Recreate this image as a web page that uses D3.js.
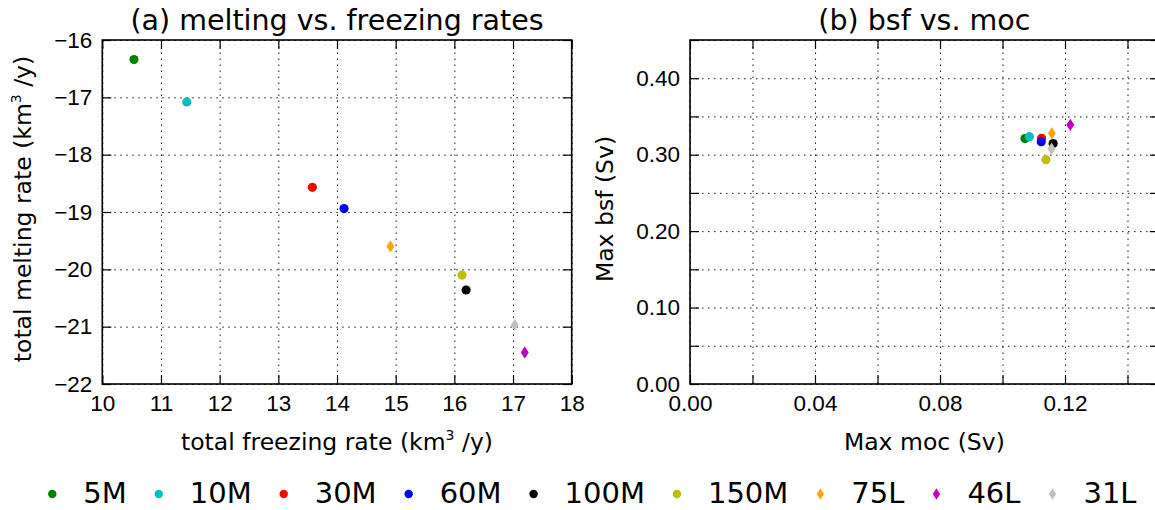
<!DOCTYPE html>
<html>
<head>
<meta charset="utf-8">
<script src="https://cdn.jsdelivr.net/npm/d3@7"></script>
<style>
    body { margin: 0; background: #fff; }
    svg { font-family: "DejaVu Sans", sans-serif; }
    .grid line { stroke: #000; stroke-width: 1; stroke-dasharray: 1.5, 4.5; opacity: 0.9; }
    .grid .domain { display: none; }
    .axis line { stroke: #000; stroke-width: 1.2; }
    .axis .domain { display: none; }
    .axis text { font-size: 22.5px; fill: #000; }
    .frame { fill: none; stroke: #000; stroke-width: 1.6; }
    .title { font-size: 28.5px; text-anchor: middle; }
    .label { font-size: 23.5px; text-anchor: middle; }
    .legend text { font-size: 29px; }
</style>
</head>
<body>
<svg id="chart" width="1155" height="510"></svg>
<script>
// runs, in legend order
const runNames = ["5M", "10M", "30M", "60M", "100M", "150M", "75L", "46L", "31L"];

// panel (a)
const freezingRate = [10.54, 11.44, 13.58, 14.12, 16.20, 16.13, 14.91, 17.20, 17.03];
const meltingRate = [-16.34, -17.08, -18.57, -18.94, -20.36, -20.10, -19.60, -21.45, -20.97];

// panel (b)
const maxMoc = [0.1072, 0.1086, 0.1125, 0.1124, 0.1162, 0.1139, 0.1158, 0.1217, 0.1157];
const maxBsf = [0.3210, 0.3235, 0.3215, 0.3170, 0.3146, 0.2935, 0.3280, 0.3390, 0.3078];

// ticks
const freezingTicks = [10, 11, 12, 13, 14, 15, 16, 17, 18];
const meltingTicks = [-16, -17, -18, -19, -20, -21, -22];
const mocTicks = [0, 0.02, 0.04, 0.06, 0.08, 0.10, 0.12, 0.14];
const mocLabels = ["0.00", "", "0.04", "", "0.08", "", "0.12", ""];
const bsfTicks = [0, 0.05, 0.10, 0.15, 0.20, 0.25, 0.30, 0.35, 0.40, 0.45];
const bsfLabels = ["0.00", "", "0.10", "", "0.20", "", "0.30", "", "0.40", ""];

// marker styling (matplotlib classic colours)
const runColors = ["#008000", "#00bfbf", "#ff0000", "#0000ff", "#000000", "#bfbf00", "#ffa500", "#bf00bf", "#c0c0c0"];
const runMarkers = ["o", "o", "o", "o", "o", "o", "d", "d", "d"];

// thin diamond like matplotlib's 'd'
const thinDiamond = {
    draw(ctx, size) {
        let r = Math.sqrt(size);
        ctx.moveTo(0, -r * 0.75);
        ctx.lineTo(r * 0.48, 0);
        ctx.lineTo(0, r * 0.75);
        ctx.lineTo(-r * 0.48, 0);
        ctx.closePath();
    }
};

function markerPath(m, scale = 1) {
    if (m === "d") return d3.symbol().type(thinDiamond).size(68 * scale)();
    return d3.symbol().type(d3.symbolCircle).size(66 * scale)();
}

const svg = d3.select("#chart");
const plotTop = 40, plotBottom = 384, tickLen = 9;

/**
 * Draws one scatter panel: grid, ticks on all sides, frame, points
 */
function drawPanel(p) {
    let x = d3.scaleLinear().domain(p.xDomain).range([p.left, p.right]);
    let y = d3.scaleLinear().domain(p.yDomain).range([plotBottom, plotTop]);
    let g = svg.append("g");

    // dotted grid
    g.append("g").attr("class", "grid")
        .attr("transform", `translate(0,${plotBottom})`)
        .call(d3.axisBottom(x).tickValues(p.xTicks).tickSize(-(plotBottom - plotTop)).tickFormat(""));
    g.append("g").attr("class", "grid")
        .attr("transform", `translate(${p.left},0)`)
        .call(d3.axisLeft(y).tickValues(p.yTicks).tickSize(-(p.right - p.left)).tickFormat(""));

    // ticks pointing inward, labels on bottom and left
    g.append("g").attr("class", "axis")
        .attr("transform", `translate(0,${plotBottom})`)
        .call(d3.axisBottom(x).tickValues(p.xTicks).tickSize(-tickLen).tickPadding(11)
            .tickFormat((d, i) => p.xLabels[i]));
    g.append("g").attr("class", "axis")
        .attr("transform", `translate(0,${plotTop})`)
        .call(d3.axisTop(x).tickValues(p.xTicks).tickSize(-tickLen).tickFormat(""));
    g.append("g").attr("class", "axis")
        .attr("transform", `translate(${p.left},0)`)
        .call(d3.axisLeft(y).tickValues(p.yTicks).tickSize(-tickLen).tickPadding(10)
            .tickFormat((d, i) => p.yLabels[i]));
    g.append("g").attr("class", "axis")
        .attr("transform", `translate(${p.right},0)`)
        .call(d3.axisRight(y).tickValues(p.yTicks).tickSize(-tickLen).tickFormat(""));

    g.append("rect").attr("class", "frame")
        .attr("x", p.left).attr("y", plotTop)
        .attr("width", p.right - p.left).attr("height", plotBottom - plotTop);

    // points
    g.append("g").selectAll("path")
        .data(runNames)
        .join("path")
        .attr("d", (d, i) => markerPath(runMarkers[i]))
        .attr("transform", (d, i) => `translate(${x(p.xs[i])},${y(p.ys[i])})`)
        .attr("fill", (d, i) => runColors[i]);

    let cx = (p.left + p.right) / 2;
    g.append("text").attr("class", "title").attr("x", cx).attr("y", 30).text(p.title);

    let xl = g.append("text").attr("class", "label").attr("x", cx).attr("y", 450);
    addLabel(xl, p.xLabel);
    let yl = g.append("text").attr("class", "label")
        .attr("transform", `translate(${p.yLabelX},${(plotTop + plotBottom) / 2 - 3}) rotate(-90)`);
    addLabel(yl, p.yLabel);
}

// label text with an optional superscript part [before, sup, after]
function addLabel(sel, parts) {
    if (typeof parts === "string") { sel.text(parts); return; }
    sel.append("tspan").text(parts[0]);
    sel.append("tspan").attr("font-size", "14px").attr("dy", -10).text(parts[1]);
    sel.append("tspan").attr("dy", 10).text(parts[2]);
}

drawPanel({
    left: 102.3, right: 571.7,
    xDomain: [10, 18], yDomain: [-22, -16],
    xTicks: freezingTicks, xLabels: freezingTicks.map(d3.format("d")),
    yTicks: meltingTicks, yLabels: meltingTicks.map(d3.format("d")),
    xs: freezingRate, ys: meltingRate,
    title: "(a) melting vs. freezing rates",
    xLabel: ["total freezing rate (km", "3", " /y)"],
    yLabel: ["total melting rate (km", "3", " /y)"],
    yLabelX: 31
});

drawPanel({
    left: 690, right: 1158.75,
    xDomain: [0, 0.15], yDomain: [0, 0.45],
    xTicks: mocTicks, xLabels: mocLabels,
    yTicks: bsfTicks, yLabels: bsfLabels,
    xs: maxMoc, ys: maxBsf,
    title: "(b) bsf vs. moc",
    xLabel: "Max moc (Sv)",
    yLabel: "Max bsf (Sv)",
    yLabelX: 613
});

// legend along the bottom, one row
let legend = svg.append("g").attr("class", "legend");
let lx = 52.3;
runNames.forEach((name, i) => {
    legend.append("path")
        .attr("d", markerPath(runMarkers[i], 0.85))
        .attr("transform", `translate(${lx},494)`)
        .attr("fill", runColors[i]);
    let t = legend.append("text").attr("x", lx + 31).attr("y", 503).text(name);
    lx += 31 + t.node().getComputedTextLength() + 32;
});
</script>
</body>
</html>
